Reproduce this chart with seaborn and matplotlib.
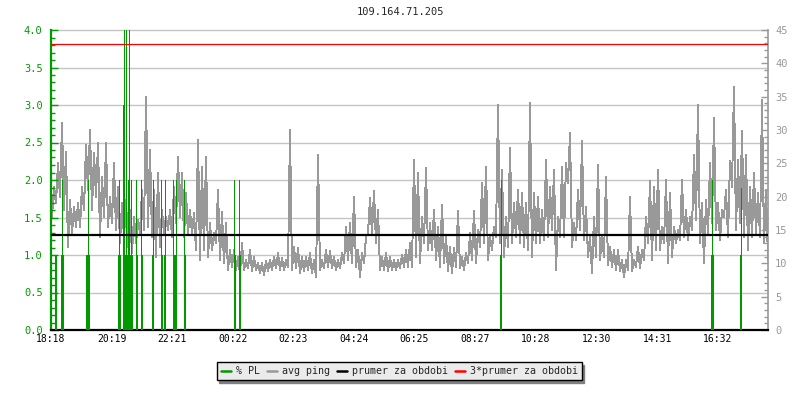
import pandas as pd
import matplotlib
matplotlib.use("Agg")
import matplotlib.pyplot as plt
import matplotlib.transforms as mtransforms
from matplotlib.lines import Line2D
from matplotlib.ticker import MultipleLocator, FormatStrFormatter
import seaborn as sns

sns.set_style("white")
plt.rcParams["font.family"] = ["DejaVu Sans Mono", "DejaVu Sans"]

# --- data ------------------------------------------------------------------
title = "109.164.71.205"
tick_labels = ["18:18", "20:19", "22:21", "00:22", "02:23", "04:24",
               "06:25", "08:27", "10:28", "12:30", "14:31", "16:32"]
span_minutes = 1434          # 18:18 .. ~18:12 next day
bin_minutes = 8              # one hi/lo pair of ping readings per 8 minutes

# avg ping (ms), upper and lower value seen in each 8-minute bin
ping_hi = [21.5, 25, 31, 26.7, 19.5, 18.5, 19, 21.5, 27.7, 30,
           26.5, 28, 23, 28, 20, 25, 21.5, 19, 19.5, 18,
           17, 16.5, 21, 35, 27, 21, 23.5, 18, 17, 18,
           21.5, 26, 23.5, 20.5, 18, 17.5, 28.5, 24.5, 26, 16,
           14.5, 21, 17.7, 16, 12, 12, 11, 13, 10.5, 12,
           11, 10, 10, 10.3, 10.5, 11, 11.5, 10.8, 10.5, 30,
           12.5, 12.3, 11, 11, 11.5, 10.5, 26.3, 10.5, 12, 11.8,
           11, 10.5, 11.5, 15.5, 16, 20, 12, 11.5, 14, 19.8,
           20.8, 18, 11, 11.5, 11, 10.5, 10.5, 11.3, 12, 13,
           25.5, 23.5, 17, 24.3, 16, 18, 15.5, 18.8, 14, 12.5,
           12.3, 17.8, 11, 11.5, 14.5, 17.8, 15, 22, 24.5, 14,
           15.5, 33.8, 24, 17, 27.3, 19, 21, 20.5, 19, 34,
           20.5, 20, 18, 25.5, 21.5, 24, 17, 24.5, 25, 29.5,
           16, 21, 28.3, 18.5, 14, 17, 24.8, 14, 23, 12.5,
           12, 12, 10.5, 10.5, 20, 10.5, 12.5, 12, 17, 22.3,
           21.5, 24, 15.5, 22.5, 20.5, 15.5, 15, 22.5, 18, 17,
           26.3, 33.8, 19, 19.5, 25, 31.8, 19, 18, 21, 25.3,
           36.5, 25.5, 29.8, 26.3, 21.5, 23.5, 20.5, 34.5, 21, 13.5]
ping_lo = [17, 19, 20, 18, 12.5, 14.5, 15.5, 15.5, 18, 21,
           18, 20, 14, 17, 15.5, 16, 15, 13, 14, 12.5,
           11.5, 13, 14.5, 15, 15.5, 14, 11, 12.5, 14.5, 15,
           14, 16, 17, 14, 14.5, 14.5, 12, 10.5, 12, 11,
           12, 13, 10.5, 10, 9, 9.5, 9, 8.5, 9, 9.3,
           8.8, 9, 8.5, 8.3, 8.8, 9, 9.3, 9, 9, 9.5,
           9, 9.3, 8.5, 8.8, 9, 8.5, 8, 9, 9.3, 9.5,
           9.3, 9, 9.3, 10, 10.5, 10, 9.5, 8, 10, 14.5,
           14.5, 13, 9, 9, 8.8, 9, 9, 9.3, 9.5, 9.5,
           9.5, 11, 10, 13, 12, 12, 10.5, 9.5, 10, 8.8,
           8.5, 9.5, 9.3, 9, 10, 10.5, 10, 12.5, 13, 10.5,
           12, 14, 13, 11, 12.5, 13, 14, 13, 12.5, 12,
           11, 13, 13, 13.5, 14, 15, 9, 14, 14, 22,
           12.5, 13.5, 15, 13.5, 11, 8.5, 11, 10.5, 11, 9.8,
           9.5, 9, 8.8, 8, 9, 8.8, 9.5, 9.3, 10.5, 13,
           10.5, 12, 12, 13, 10, 11, 13, 13.5, 14, 13.5,
           15, 16.5, 13, 10, 14.5, 16, 15, 13.5, 17, 14,
           21.5, 15, 16, 14, 12, 14, 14.5, 14, 13, 10.5]

# packet loss events: minute after 18:18 and % PL
pl_minutes = [8, 10, 20, 22, 24, 70, 72, 74, 76, 134, 136, 138,
              144, 146, 148, 150, 152, 154, 156, 158, 160, 162, 170, 172,
              180, 182, 202, 204, 220, 222, 226, 228, 244, 246, 248, 250,
              266, 268, 366, 368, 376, 378, 898, 900, 1320, 1322, 1324,
              1378, 1380]
pl_percent = [1, 1, 1, 2, 1, 1, 1, 2, 1, 1, 2, 1,
              3, 5, 1, 5, 1, 2, 5, 1, 2, 1, 2, 1,
              2, 1, 1, 2, 2, 1, 1, 2, 2, 1, 1, 2,
              2, 1, 2, 1, 2, 1, 1, 2, 1, 2, 1,
              1, 1.9]

avg_ping = 14.28             # prumer za obdobi (ms)

GREEN = "#009a00"
GRAY = "#999999"
GRID = "#c4c4c4"

# --- tidy table for seaborn --------------------------------------------------
rows = []
for i, (lo, hi) in enumerate(zip(ping_lo, ping_hi)):
    rows.append((i * bin_minutes + 2, lo))
    rows.append((i * bin_minutes + 6, hi))
df_ping = pd.DataFrame(rows, columns=["minutes", "ping"])

def to_minutes(label):
    h, m = map(int, label.split(":"))
    return h * 60 + m

start = to_minutes(tick_labels[0])
tick_pos = [(to_minutes(t) - start) % 1440 for t in tick_labels]

# --- figure ------------------------------------------------------------------
fig = plt.figure(figsize=(8, 4), dpi=100)
ax = fig.add_axes([0.06375, 0.175, 0.89625, 0.75])
ax2 = ax.twinx()
ax.set_zorder(2)
ax2.set_zorder(1)
ax.patch.set_visible(False)

LEFT_MAX, RIGHT_MAX = 4.0, 45.0
ax.set_xlim(0, span_minutes)
ax.set_ylim(0, LEFT_MAX)
ax2.set_ylim(0, RIGHT_MAX)

# horizontal grid follows the left (% PL) ticks
for v in [0.5 * k for k in range(1, 9)]:
    ax2.axhline(v * RIGHT_MAX / LEFT_MAX, color=GRID, lw=1.0, zorder=0,
                clip_on=False)

sns.lineplot(data=df_ping, x="minutes", y="ping", ax=ax2, color=GRAY,
             lw=0.7, estimator=None, sort=False, legend=False, zorder=2,
             antialiased=False)

ax.vlines(pl_minutes, 0, pl_percent, color=GREEN, lw=0.7, zorder=3,
          antialiased=False)

trans = mtransforms.blended_transform_factory(ax.transAxes, ax2.transData)
ax.plot([0, 1], [avg_ping, avg_ping], transform=trans, color="black",
        lw=1.6, zorder=4)
ax.plot([0, 1], [3 * avg_ping, 3 * avg_ping], transform=trans, color="red",
        lw=0.9, zorder=4)

# axes styling
ax.set_xticks(tick_pos)
ax.set_xticklabels(tick_labels)
ax.yaxis.set_major_locator(MultipleLocator(0.5))
ax.yaxis.set_minor_locator(MultipleLocator(0.1))
ax.yaxis.set_major_formatter(FormatStrFormatter("%.1f"))
ax2.yaxis.set_major_locator(MultipleLocator(5))
ax2.yaxis.set_minor_locator(MultipleLocator(1))

ax.tick_params(axis="x", direction="in", length=5, width=1, colors="black",
               labelsize=7, pad=3)
ax.tick_params(axis="y", which="major", direction="in", length=5, width=1,
               colors=GREEN, labelsize=7.5, pad=6)
ax.tick_params(axis="y", which="minor", direction="in", length=3, width=1,
               colors=GREEN)
ax2.tick_params(axis="y", which="major", direction="in", length=5, width=1,
                colors=GRAY, labelsize=7.5, pad=5)
ax2.tick_params(axis="y", which="minor", direction="in", length=3, width=1,
                colors=GRAY)

ax.set_xlabel("")
ax.set_ylabel("")
ax2.set_xlabel("")
ax2.set_ylabel("")

for s in ax2.spines.values():
    s.set_visible(False)
ax.spines["top"].set_visible(False)
ax.spines["left"].set_color(GREEN)
ax.spines["left"].set_linewidth(1.6)
ax.spines["bottom"].set_color("black")
ax.spines["bottom"].set_linewidth(1.6)
ax.spines["right"].set_color(GRAY)
ax.spines["right"].set_linewidth(1.2)

fig.text(0.5, 1 - 12 / 400, title, ha="center", va="center", fontsize=7.5)

handles = [Line2D([], [], color=c, lw=1.8) for c in (GREEN, GRAY, "black", "red")]
labels = ["% PL", "avg ping", "prumer za obdobi", "3*prumer za obdobi"]
leg = fig.legend(handles, labels, loc="center", bbox_to_anchor=(0.499, 0.0725),
                 ncol=4, fontsize=7.2, frameon=True, fancybox=False,
                 shadow={"color": "#808080", "alpha": 1, "ox": 2, "oy": -2},
                 edgecolor="black", facecolor="#ebebeb", framealpha=1,
                 handlelength=1.0, handletextpad=0.5, columnspacing=0.7,
                 borderpad=0.4, borderaxespad=0)
leg.get_frame().set_linewidth(1.0)

fig.savefig("out.png", dpi=100)
